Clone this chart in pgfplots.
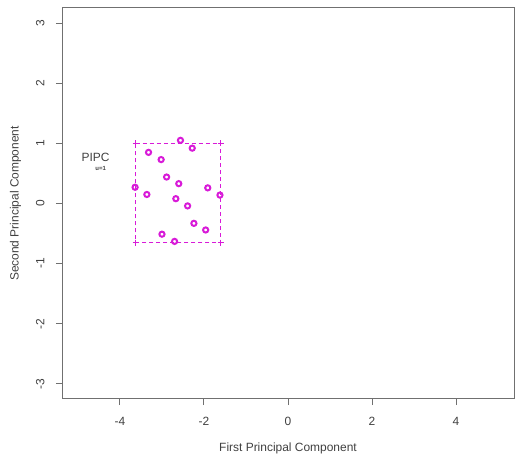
\documentclass[border=0pt]{standalone}
\usepackage{fontspec}
\setmainfont{Liberation Sans}
\usepackage{pgfplots}
\pgfplotsset{compat=1.18}
\definecolor{PtMag}{HTML}{D81BD8}
\definecolor{AxGray}{HTML}{707070}
\definecolor{TxGray}{HTML}{404040}

\begin{document}
\begin{tikzpicture}
\path[use as bounding box] (-62bp,-55bp) rectangle (453bp,399bp);
\begin{axis}[
  scale only axis,
  width=452bp,height=391bp,
  xmin=-5.38,xmax=5.38,ymin=-3.25,ymax=3.25,
  xtick={-4,-2,0,2,4},ytick={-3,-2,-1,0,1,2,3},
  tick align=outside,major tick length=6bp,
  axis line style={AxGray,line width=1bp},
  tick style={AxGray,line width=1bp},
  xtick pos=bottom,ytick pos=left,
  font=\fontsize{12}{14}\selectfont,
  tick label style={TxGray},
  /pgf/number format/assume math mode=true,
  xticklabel style={yshift=-9bp},
  yticklabel style={rotate=90,anchor=south,yshift=8bp},
  xlabel={First Principal Component},
  ylabel={Second Principal Component},
  label style={TxGray},
  xlabel style={yshift=-10bp},
  ylabel style={yshift=8bp},
  clip=false]
% bounding box of PIPC region
\addplot[draw=PtMag,dash pattern=on 4bp off 3bp,line width=1bp,no marks] coordinates {
  (-3.63,1.00) (-1.60,1.00) (-1.60,-0.65) (-3.63,-0.65) (-3.63,1.00)};
\addplot[only marks,mark=+,mark size=3bp,mark options={solid,draw=PtMag,line width=1bp}] coordinates {
  (-3.63,1.00) (-1.60,1.00) (-1.60,-0.65) (-3.63,-0.65)};
% points
\addplot[only marks,mark=o,mark size=2.6bp,
  mark options={draw=PtMag,fill=PtMag!30,line width=2bp}] coordinates {
  (-2.56,1.05) (-2.28,0.92) (-3.32,0.85) (-3.02,0.73)
  (-2.89,0.44) (-2.60,0.33) (-3.64,0.27) (-1.91,0.26)
  (-3.36,0.15) (-1.62,0.14) (-2.67,0.08) (-2.39,-0.04)
  (-2.24,-0.33) (-1.96,-0.44) (-3.00,-0.51) (-2.70,-0.63)};
\node[TxGray,font=\fontsize{12}{14}\selectfont] at (axis cs:-4.58,0.77) {PIPC};
\node[TxGray,font=\fontsize{6}{7}\selectfont\bfseries] at (axis cs:-4.46,0.58) {u=1};
\end{axis}
\end{tikzpicture}
\end{document}
